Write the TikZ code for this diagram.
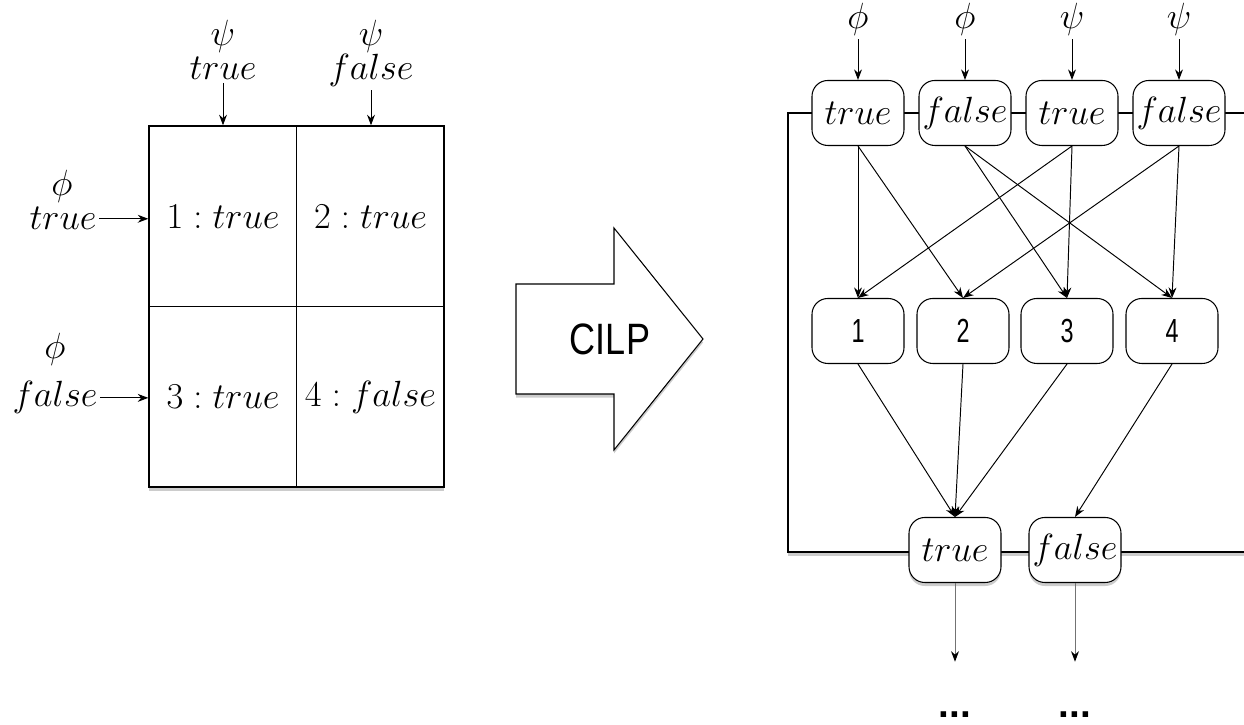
\documentclass[tikz,border=0pt]{standalone}
\usepackage{fontspec}
\setsansfont{Liberation Sans}
\usetikzlibrary{arrows.meta, shadows}

\begin{document}
\begin{tikzpicture}[
    every node/.style={font=\fontsize{22}{26}\selectfont, inner sep=1.5pt},
    arr/.style={-{Stealth[length=6pt, width=4.5pt]}, line width=0.55pt},
    unit/.style={draw, fill=white, rectangle, rounded corners=9pt,
      minimum width=1.84cm, minimum height=1.3cm, inner sep=0pt, line width=0.6pt},
    hidden/.style={unit, font=\sffamily\fontsize{19}{21}\selectfont},
    shade/.style={drop shadow={shadow xshift=0pt, shadow yshift=-2pt, opacity=0.4}}
  ]

    \clip (0,0) rectangle (24.88,14.5);

    % Truth table
    \node[draw, fill=white, line width=0.8pt, minimum width=5.9cm, minimum height=7.22cm, shade] (tab) at (5.93,8.37) {};
    \draw[line width=0.6pt] (tab.north) -- (tab.south);
    \draw[line width=0.6pt] (tab.west) -- (tab.east);
    \node (c1) at (4.46,10.17) {$1:true$};
    \node (c2) at (7.41,10.17) {$2:true$};
    \node (c3) at (4.46,6.56) {$3:true$};
    \node (c4) at (7.41,6.56) {$4:false$};

    % Column inputs (psi)
    \node[anchor=base] (psiA) at (4.46,13.58) {$\psi$};
    \node[anchor=base] (psiTrue) at (4.46,12.9) {$true$};
    \node[anchor=base] (psiB) at (7.42,13.58) {$\psi$};
    \node[anchor=base] (psiFalse) at (7.42,12.9) {$false$};
    \draw[arr] (psiTrue.south) -- (psiTrue.south |- tab.north);
    \draw[arr] (psiFalse.south) -- (psiFalse.south |- tab.north);

    % Row inputs (phi)
    \node[anchor=base] (phiA) at (1.24,10.58) {$\phi$};
    \node[anchor=base] (phiTrue) at (1.26,9.9) {$true$};
    \node[anchor=base] (phiB) at (1.1,7.32) {$\phi$};
    \node[anchor=base] (phiFalse) at (1.1,6.36) {$false$};
    \draw[arr] (phiTrue.east) -- (phiTrue.east -| tab.west);
    \draw[arr] (phiFalse.east) -- (phiFalse.east -| tab.west);

    % Translation arrow
    \draw[line width=0.6pt, fill=white, shade]
      (10.32,8.82) -- (12.28,8.82) -- (12.28,9.94) -- (14.06,7.72)
      -- (12.28,5.5) -- (12.28,6.62) -- (10.32,6.62) -- cycle;
    \node[font=\sffamily\fontsize{25}{27}\selectfont] (cilp) at (12.2,7.72) {\scalebox{0.82}[1]{CILP}};

    % Network frame
    \draw[line width=1pt, fill=white, shade] (15.76,3.46) rectangle (25.5,12.24);

    % Input layer
    \node[unit] (inPhiT) at (17.16,12.24) {$true$};
    \node[unit] (inPhiF) at (19.3,12.24) {$false$};
    \node[unit] (inPsiT) at (21.44,12.24) {$true$};
    \node[unit] (inPsiF) at (23.58,12.24) {$false$};
    \foreach \n/\v/\x in {lPhiA/\phi/17.16, lPhiB/\phi/19.3, lPsiA/\psi/21.44, lPsiB/\psi/23.58}
      \node[anchor=base] (\n) at (\x,13.92) {$\v$};
    \draw[arr] (lPhiA.south) -- (inPhiT.north);
    \draw[arr] (lPhiB.south) -- (inPhiF.north);
    \draw[arr] (lPsiA.south) -- (inPsiT.north);
    \draw[arr] (lPsiB.south) -- (inPsiF.north);

    % Hidden layer
    \node[hidden] (h1) at (17.16,7.88) {\scalebox{0.7}[1]{1}};
    \node[hidden] (h2) at (19.26,7.88) {\scalebox{0.7}[1]{2}};
    \node[hidden] (h3) at (21.34,7.88) {\scalebox{0.7}[1]{3}};
    \node[hidden] (h4) at (23.44,7.88) {\scalebox{0.7}[1]{4}};
    \foreach \a/\b in {inPhiT/h1, inPhiT/h2, inPhiF/h3, inPhiF/h4,
                      inPsiT/h1, inPsiT/h3, inPsiF/h2, inPsiF/h4}
      \draw[arr] (\a.south) -- (\b.north);

    % Output layer
    \node[unit, shade] (outT) at (19.1,3.5) {$true$};
    \node[unit, shade] (outF) at (21.5,3.5) {$false$};
    \foreach \a/\b in {h1/outT, h2/outT, h3/outT, h4/outF}
      \draw[arr] (\a.south) -- (\b.north);

    \node[anchor=base, font=\sffamily\bfseries\fontsize{22}{24}\selectfont] (dotsT) at (19.1,0.14) {...};
    \node[anchor=base, font=\sffamily\bfseries\fontsize{22}{24}\selectfont] (dotsF) at (21.5,0.14) {...};
    \draw[arr, black!55, -{Stealth[length=6pt, width=4.5pt, color=black]}, shorten >=0.95cm] (outT.south) -- (dotsT.north);
    \draw[arr, black!55, -{Stealth[length=6pt, width=4.5pt, color=black]}, shorten >=0.95cm] (outF.south) -- (dotsF.north);

\end{tikzpicture}
\end{document}
